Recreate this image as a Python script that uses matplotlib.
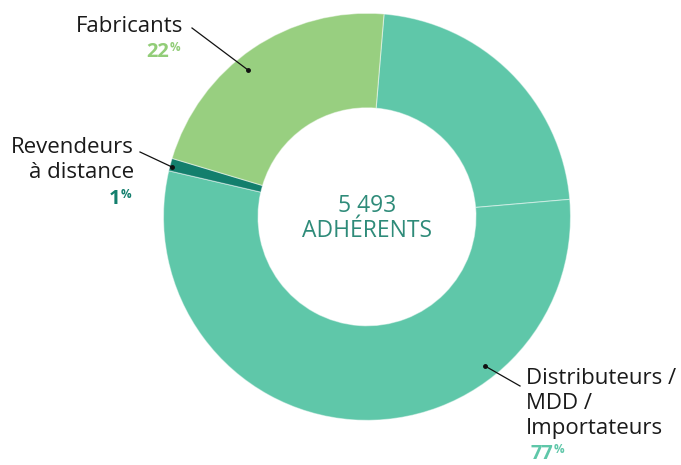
import matplotlib
matplotlib.use("Agg")
import matplotlib.pyplot as plt

# Data (percent of members), clockwise from top
segments = ["Distributeurs / MDD / Importateurs (a)", "Distributeurs / MDD / Importateurs (b)",
            "Revendeurs à distance", "Fabricants"]
values = [22.3, 55.0, 1.0, 21.7]
colors = ["#5FC7A9", "#5FC7A9", "#137F6D", "#98CF80"]

labels = ["Fabricants", "Revendeurs\nà distance", "Distributeurs /\nMDD /\nImportateurs"]
pct_labels = ["22", "1", "77"]
pct_colors = ["#92CD78", "#137F6D", "#5FC7A9"]
total_text = ["5 493", "ADHÉRENTS"]

W, H = 681, 465
fig = plt.figure(figsize=(W / 100, H / 100), dpi=100)
ax = fig.add_axes([0, 0, 1, 1])
ax.set_xlim(0, W)
ax.set_ylim(0, H)
ax.set_aspect("equal")
ax.axis("off")

cx, cy = 367, H - 216.8
R, r_in = 203.5, 109
ax.pie(values, colors=colors, startangle=85.2, counterclock=False,
       center=(cx, cy), radius=R,
       wedgeprops=dict(width=R - r_in, edgecolor=(1, 1, 1, 0.45), linewidth=0.8))
ax.set_xlim(0, W)
ax.set_ylim(0, H)

font = "Open Sans"
ax.text(cx, H - 206, total_text[0], ha="center", va="center", fontsize=16.5,
        color="#2E8B79", family=font)
ax.text(cx, H - 231, total_text[1], ha="center", va="center", fontsize=16.5,
        color="#2E8B79", family=font)

def label(text, x, y, ha):
    ax.text(x, H - y, text, ha=ha, va="top", fontsize=16, color="#1a1a1a",
            family=font, linespacing=1.25)

def pct(num, color, x, y):
    ax.text(x, H - y, num, ha="right", va="top", fontsize=14.5, color=color,
            family=font, fontweight="bold")
    ax.text(x + 1, H - y + 1, "%", ha="left", va="top", fontsize=8.5, color=color,
            family=font, fontweight="bold")

def leader(x0, y0, x1, y1):
    ax.plot([x0, x1], [H - y0, H - y1], color="#111111", lw=0.9)
    ax.plot([x1], [H - y1], "o", color="#111111", ms=2.5)

label(labels[0], 183, 16, "right")
pct(pct_labels[0], pct_colors[0], 169, 42)
leader(192, 28, 248, 70)

label(labels[1], 134, 137, "right")
pct(pct_labels[1], pct_colors[1], 120, 189)
leader(140, 152, 172, 167)

label(labels[2], 526, 368, "left")
pct(pct_labels[2], pct_colors[2], 553, 444)
leader(520, 386, 485, 366)

fig.savefig("out.png", dpi=100)
